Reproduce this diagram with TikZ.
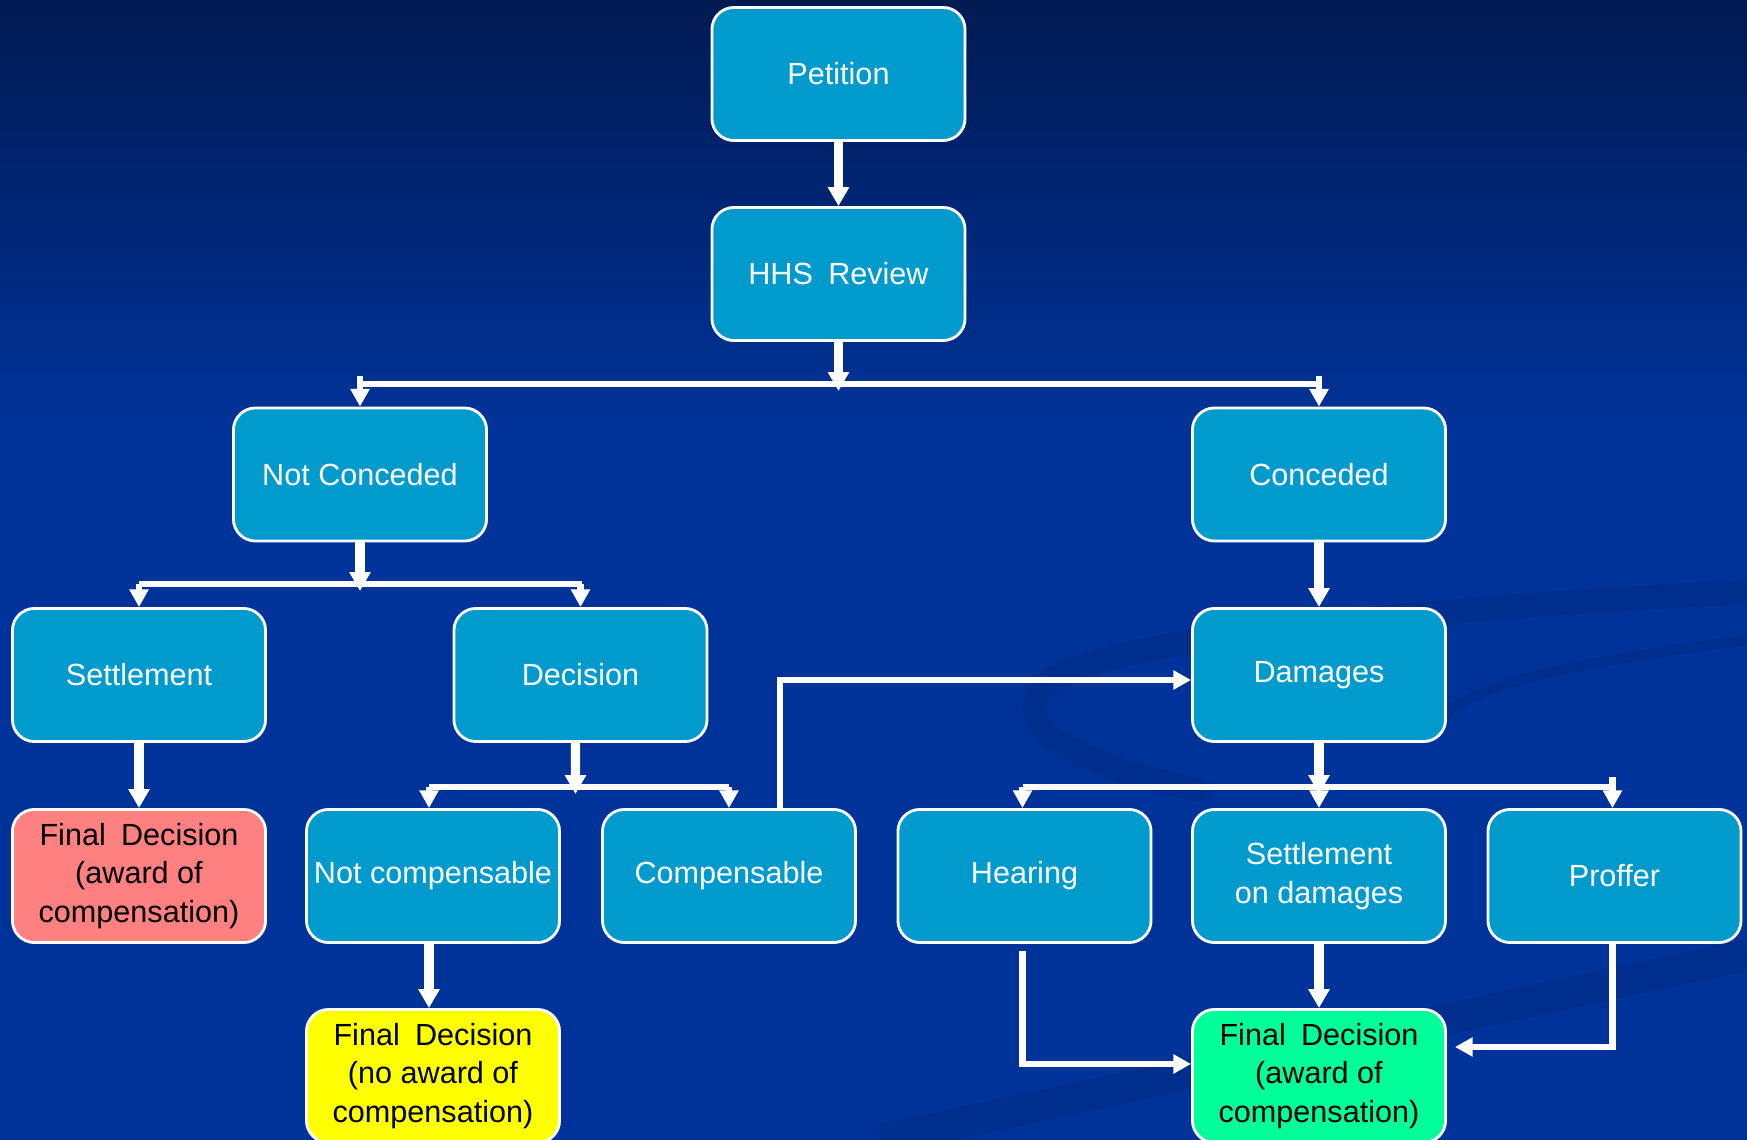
\documentclass[tikz,border=0pt]{standalone}
\usepackage{fontspec}
\setmainfont{Liberation Sans}
\usetikzlibrary{arrows.meta}
\definecolor{bgtop}{RGB}{0,26,82}
\definecolor{bgbot}{RGB}{0,51,153}
\definecolor{swoosh}{RGB}{0,36,120}
\definecolor{boxblue}{RGB}{0,155,204}
\definecolor{finred}{RGB}{255,128,128}
\definecolor{finyel}{RGB}{255,255,0}
\definecolor{fingreen}{RGB}{0,255,153}
\tikzset{
  box/.style={rectangle, rounded corners=0.22cm, draw=white, line width=0.8pt,
    fill=boxblue, text=white, minimum width=2.53cm, minimum height=1.33cm,
    inner sep=0pt, align=center, font=\fontsize{8.7}{10.9}\selectfont},
  finbox/.style={box, text=black},
  link/.style={draw=white, line width=1.8pt},
  conn/.style={link, -{Triangle[width=5.2pt,length=5pt]}},
  trunk/.style={conn, line width=2.6pt, -{Triangle[width=5.8pt,length=5.4pt]}},
}
\begin{document}
\begin{tikzpicture}[x=0.01cm,y=-0.01cm]
\useasboundingbox (0,0) rectangle (1747,1140);
% background
\fill[bgbot] (0,0) rectangle (1747,1140);
\shade[top color=bgtop,bottom color=bgbot] (0,0) rectangle (1747,430);
\begin{scope}[opacity=0.3]
\draw[swoosh, line width=7pt, line cap=round] (1747,592) .. controls (1400,610) and (1080,640) .. (1040,690) .. controls (1010,735) and (1100,770) .. (1200,790);
\draw[swoosh, line width=3pt] (1747,640) .. controls (1600,660) and (1470,680) .. (1440,720);
\draw[swoosh, line width=9pt] (880,1140) -- (1747,955);
\end{scope}
% nodes
\node[box] (pet) at (838.5,74) {Petition};
\node[box] (hhs) at (838.5,274) {HHS\enspace Review};
\node[box] (nc) at (360,474.5) {Not Conceded};
\node[box] (con) at (1319,474.5) {Conceded};
\node[box] (sett) at (139,675) {Settlement};
\node[box] (dec) at (580.5,675) {Decision};
\node[box] (dam) at (1319,675) {Damages};
\node[finbox, fill=finred] (fr) at (139,876) {Final\enspace Decision\\(award of\\compensation)};
\node[box] (notc) at (433,876) {Not compensable};
\node[box] (comp) at (729,876) {Compensable};
\node[box] (hear) at (1024.5,876) {Hearing};
\node[box] (sod) at (1319,876) {Settlement\\on damages};
\node[box] (prof) at (1614.5,876) {Proffer};
\node[finbox, fill=finyel] (fy) at (433,1076) {Final\enspace Decision\\(no award of\\compensation)};
\node[finbox, fill=fingreen] (fg) at (1319,1076) {Final\enspace Decision\\(award of\\compensation)};
% junction coordinates
\coordinate (j1) at (838.5,391);
\coordinate (j2) at (360,591);
\coordinate (j3) at (575.5,794);
\coordinate (j4) at (1319,794);
% Petition -> HHS
\draw[trunk] (pet.south) -- (hhs.north);
% HHS -> Not Conceded / Conceded
\draw[link] (nc.north |- 0,384) -- (con.north |- 0,384);
\draw[trunk] (hhs.south) -- (j1);
\draw[conn] ([yshift=0.08cm]nc.north |- 0,384) -- (nc.north);
\draw[conn] ([yshift=0.08cm]con.north |- 0,384) -- (con.north);
% Not Conceded -> Settlement / Decision
\draw[link] (sett.north |- 0,584) -- ([xshift=0.01cm]dec.north |- 0,584);
\draw[trunk] (nc.south) -- (j2);
\draw[conn] (sett.north |- 0,584) -- (sett.north);
\draw[conn] (dec.north |- 0,584) -- (dec.north);
% Settlement -> Final (red)
\draw[trunk] (sett.south) -- (fr.north);
% Decision -> Not compensable / Compensable
\draw[link] ([xshift=-0.04cm]notc.north |- 0,787) -- (comp.north |- 0,787);
\draw[trunk] ([xshift=-0.05cm]dec.south) -- (j3);
\draw[conn] ([xshift=-0.04cm]notc.north |- 0,787) -- ([xshift=-0.04cm]notc.north);
\draw[conn] (comp.north |- 0,787) -- (comp.north);
% Not compensable -> Final (yellow)
\draw[trunk] ([xshift=-0.04cm]notc.south) -- ([xshift=-0.04cm]fy.north);
% Compensable -> Damages
\draw[conn] ([xshift=0.51cm]comp.north) |- ([yshift=-0.05cm]dam.west);
% Conceded -> Damages
\draw[trunk] (con.south) -- (dam.north);
% Damages -> Hearing / Settlement on damages / Proffer
\draw[link] ([xshift=-0.02cm]hear.north |- 0,787) -- ([xshift=-0.02cm]prof.north |- 0,787);
\draw[trunk] (dam.south) -- (j4);
\draw[conn] ([xshift=-0.02cm]hear.north |- 0,787) -- ([xshift=-0.02cm]hear.north);
\draw[conn] (j4) -- (sod.north);
\draw[conn] ([xshift=-0.02cm,yshift=0.1cm]prof.north |- 0,787) -- ([xshift=-0.02cm]prof.north);
% to Final (green)
\draw[trunk] (sod.south) -- (fg.north);
\draw[conn] ([xshift=-0.02cm,yshift=-0.07cm]hear.south) |- ([yshift=0.12cm]fg.west);
\draw[conn] ([xshift=-0.02cm]prof.south) |- ([xshift=0.08cm,yshift=0.29cm]fg.east);
\end{tikzpicture}
\end{document}
